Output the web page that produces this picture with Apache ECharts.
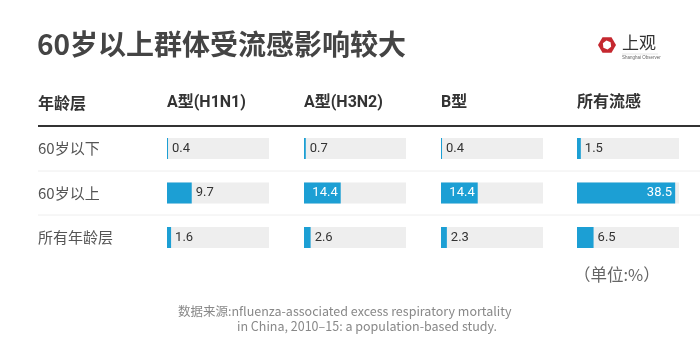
<!DOCTYPE html>
<html><head><meta charset="utf-8">
<script src="https://cdn.jsdelivr.net/npm/echarts@6/dist/echarts.min.js"></script>
<style>html,body{margin:0;padding:0;background:#fff}#c{width:700px;height:355px}</style>
</head><body><div id="c"></div>
<script>
const titleText = '60岁以上群体受流感影响较大';
const rowHeader = '年龄层';
const ageGroups = ['60岁以下', '60岁以上', '所有年龄层'];
const fluTypes = ['A型(H1N1)', 'A型(H3N2)', 'B型', '所有流感'];
const h1n1 = [0.4, 9.7, 1.6];
const h3n2 = [0.7, 14.4, 2.6];
const typeB = [0.4, 14.4, 2.3];
const allFlu = [1.5, 38.5, 6.5];
const unitText = '（单位:%）';
const sourceLine1 = '数据来源:nfluenza-associated excess respiratory mortality';
const sourceLine2 = 'in China, 2010–15: a population-based study.';

const seriesValues = [h1n1, h3n2, typeB, allFlu];
const colLeft = [167, 304, 441, 577];
const colW = 102;
const gridTop = 126.25, bandH = 44.5;
const blue = '#1c9fd4';
const font = 'Roboto, "Noto Sans", "Noto Sans CJK SC", sans-serif';
const cjk = '"Noto Sans CJK SC", "Noto Sans", sans-serif';

const chart = echarts.init(document.getElementById('c'), null, {renderer: 'canvas'});

const grids = [], xAxes = [], yAxes = [], series = [];
seriesValues.forEach((vals, i) => {
  grids.push({left: colLeft[i], top: gridTop, width: colW, height: bandH * 3});
  xAxes.push({type: 'value', gridIndex: i, min: 0, max: 40, show: false});
  yAxes.push({
    type: 'category', gridIndex: i, data: ageGroups, inverse: true,
    axisLine: {show: false}, axisTick: {show: false}, splitLine: {show: false},
    axisLabel: i === 0 ? {show: true, align: 'left', margin: 129, fontSize: 15, color: '#555', fontFamily: cjk} : {show: false}
  });
  series.push({
    type: 'bar', xAxisIndex: i, yAxisIndex: i, barWidth: 21,
    showBackground: true, backgroundStyle: {color: '#eeeeee'},
    itemStyle: {color: blue},
    data: vals.map(v => v > 12 ? {
      value: v,
      label: {position: 'insideRight', distance: 3, color: '#fff'}
    } : v),
    label: {show: true, position: 'right', distance: 4, fontSize: 13, color: '#333', fontFamily: font},
    silent: true, animation: false
  });
});

const graphic = [
  {type: 'text', left: 37, top: 30, style: {text: titleText, font: 'bold 28px ' + cjk, fill: '#444'}},
  {type: 'text', left: 38, top: 95, style: {text: rowHeader, font: 'bold 16px ' + cjk, fill: '#333'}},
  {type: 'line', shape: {x1: 38, y1: 126, x2: 700, y2: 126}, style: {stroke: '#333', lineWidth: 2}},
  {type: 'line', shape: {x1: 38, y1: 171, x2: 700, y2: 171}, style: {stroke: '#eeeeee', lineWidth: 1}},
  {type: 'line', shape: {x1: 38, y1: 215, x2: 700, y2: 215}, style: {stroke: '#eeeeee', lineWidth: 1}},
  {type: 'text', left: 574, top: 266, style: {text: unitText, font: '16.5px ' + cjk, fill: '#666'}},
  {type: 'text', left: 178, top: 305, style: {text: sourceLine1, font: '12.5px ' + cjk, fill: '#888'}},
  {type: 'text', left: 237, top: 320, style: {text: sourceLine2, font: '12.5px ' + cjk, fill: '#888'}},
  // logo
  {type: 'polygon', shape: {points: [0,1,2,3,4,5].map(k => [607 + 9 * Math.cos(Math.PI / 3 * k), 45 + 9 * Math.sin(Math.PI / 3 * k)])}, style: {fill: '#c5282f'}},
  {type: 'polygon', shape: {points: [0,1,2,3,4,5].map(k => [607 + 4.5 * Math.cos(Math.PI / 3 * k + 0.4), 45 + 4.5 * Math.sin(Math.PI / 3 * k + 0.4)])}, style: {fill: '#fff'}},
  {type: 'text', left: 622, top: 34, style: {text: '上观', font: '17px ' + cjk, fill: '#333'}},
  {type: 'line', shape: {x1: 622, y1: 54, x2: 658, y2: 54}, style: {stroke: '#ccc', lineWidth: 0.5}},
  {type: 'text', left: 622, top: 55, style: {text: 'Shanghai Observer', font: '4.5px sans-serif', fill: '#666'}}
];
fluTypes.forEach((t, i) => {
  graphic.push({type: 'text', left: colLeft[i], top: 95, style: {text: t, font: 'bold 16px ' + font, fill: '#333'}});
});

chart.setOption({
  animation: false,
  grid: grids, xAxis: xAxes, yAxis: yAxes, series: series, graphic: graphic
});
</script></body></html>
